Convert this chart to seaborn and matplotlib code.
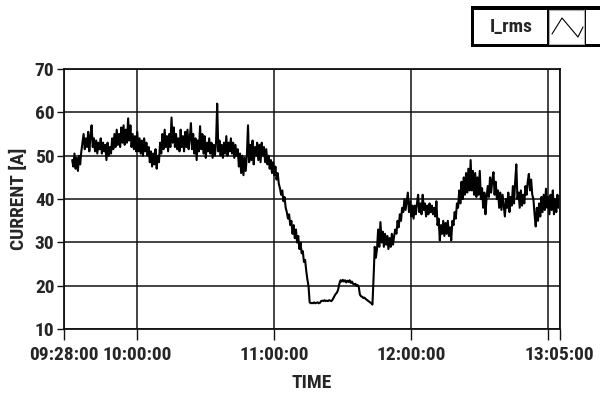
import numpy as np
import pandas as pd
import matplotlib
matplotlib.use("Agg")
import matplotlib.pyplot as plt
import matplotlib.dates as mdates
from matplotlib import font_manager as fm
from matplotlib.patches import Rectangle
from matplotlib.lines import Line2D
import seaborn as sns

# ---- data: RMS current sampled every 30 s, one block per hour ----
DAY = "2000-01-01"
SAMPLE_SECONDS = 30

block_starts = ["09:31:30", "10:00:00", "11:00:00", "12:00:00"]

current_0931 = [
    49, 47.5, 50.5, 47, 49.5, 46.5, 50, 48, 51, 53,
    55, 51.5, 54, 52, 55.5, 51, 54.5, 57, 52, 54,
    51, 53.5, 50.5, 53, 51.5, 54, 50.5, 53, 51, 52.5,
    49, 53, 50, 52, 50.5, 54, 51.5, 55, 52, 56,
    52.5, 55, 52, 56.5, 53, 57, 52.5, 56, 53, 58.6,
    53.5, 57, 52, 55, 51.5, 54.5, 51,
]
current_1000 = [
    55.5, 51, 54, 50.5, 53.5, 50, 54, 51, 53, 50,
    52, 48.5, 51, 47.5, 50.5, 48, 51.5, 47, 50, 48.5,
    53, 50.5, 55, 51.5, 56, 52, 54.5, 51, 55, 52,
    58.8, 53, 56.5, 52, 55, 51.5, 54, 51, 56, 52,
    54.5, 51, 55.5, 52, 56, 51.5, 54, 57.5, 51.5, 55,
    50.5, 54, 49, 53.5, 51, 56.8, 51.5, 55, 50.5, 54.5,
    49.5, 53, 51, 54, 50.5, 53, 49.5, 52.5, 50, 53,
    62, 51, 53.5, 50, 52.5, 49.5, 53, 50.5, 54.5, 50,
    53, 51, 54, 50.5, 53, 49.5, 52.5, 50, 51.5, 47.5,
    50.5, 46, 50, 45.5, 49.5, 46.5, 50, 57, 48.5, 52.5,
    49, 53.5, 48, 52, 50, 53, 49, 52.5, 48.5, 53,
    50, 52, 48.5, 51.5, 48, 50, 47, 49, 46, 48.5,
]
current_1100 = [
    45.5, 47.5, 44.5, 46, 43.5, 42.5, 41, 42, 39.5, 40.5,
    38, 37, 35.5, 36.5, 34, 35, 32, 34, 31, 33,
    30, 31.5, 28.5, 30, 27.5, 28, 25.5, 26, 23.5, 21.5,
    20, 16.2, 16, 16.1, 16, 16.2, 16, 16.1, 16.2, 16,
    16.1, 16.5, 16.6, 16.5, 16.7, 16.5, 16.6, 16.5, 16.7, 16.6,
    16.5, 16.8, 17.3, 17.8, 18.2, 18.5, 19.2, 20.5, 21.3, 21,
    21.4, 21, 21.3, 20.8, 21.2, 20.9, 21.3, 20.7, 21, 20.5,
    20.3, 20.5, 20, 20.2, 19.8, 18, 17.6, 17.5, 17.2, 17.3,
    17, 16.8, 16.6, 16.4, 16.2, 16, 15.7, 22, 29, 26.5,
    28.5, 33, 29, 34.7, 30, 32.5, 29, 32, 29.5, 31.5,
    28.5, 31, 29, 32, 29.5, 31.5, 33, 32, 35, 33.5,
    36.5, 35, 38, 37, 40, 37.5, 39.5, 41.5, 37, 39.5,
]
current_1200 = [
    36, 38.5, 35.5, 38.5, 36.5, 39, 41, 37, 39, 36.5,
    41, 37.5, 39, 36, 38.5, 36.5, 39, 37, 38.5, 36.5,
    38, 36, 39.5, 34, 35.5, 30.5, 34, 32, 35, 31.5,
    34.5, 32, 35, 31.5, 33.5, 30.5, 35, 34, 37, 35.5,
    39, 38, 42, 39, 44, 40, 45, 41, 46, 41.5,
    47, 42, 49, 42, 46.5, 41, 46, 40.5, 45, 41,
    46.5, 40, 42.5, 38, 41.5, 36.5, 40.5, 43, 40.5, 45,
    41.5, 44.5, 46.2, 41, 44, 40, 42, 38, 41.5, 37.5,
    41, 38.5, 36, 40, 38, 41.5, 37, 40.5, 38.5, 43,
    39, 44, 48, 40, 41.5, 38, 42, 38.5, 41, 39,
    43, 41, 44, 45.8, 42, 44.5, 41, 40, 36.5, 33.7,
    38, 35, 39, 36, 40.5, 37, 41, 37.5, 42.4, 38,
    40.5, 36.5, 41, 37.5, 42, 36.5, 40, 37, 41, 38,
]

x_limits = ["09:28:00", "13:05:00"]
x_tick_times = ["09:28:00", "10:00:00", "11:00:00", "12:00:00", "13:00:00", "13:05:00"]
x_tick_labels = ["09:28:00", "10:00:00", "11:00:00", "12:00:00", "", "13:05:00"]
y_ticks = [10, 20, 30, 40, 50, 60, 70]
series_name = "I_rms"

# ---- assemble the time series ----
frames = []
for start, vals in zip(block_starts, [current_0931, current_1000, current_1100, current_1200]):
    t0 = pd.Timestamp(f"{DAY} {start}")
    times = t0 + pd.to_timedelta(np.arange(len(vals)) * SAMPLE_SECONDS, unit="s")
    frames.append(pd.DataFrame({"time": times, "current": vals}))
df = pd.concat(frames, ignore_index=True)


# ---- pick a narrow bold face if one is installed ----
def pick_narrow_font():
    entries = fm.fontManager.ttflist
    names = {f.name for f in entries}
    for name in ["Liberation Sans Narrow", "Roboto Condensed", "Open Sans Condensed",
                 "Noto Sans Condensed", "Arial Narrow", "DejaVu Sans Condensed"]:
        if name in names:
            return name, "normal"
    for fam in ["Noto Sans", "Open Sans", "Roboto", "DejaVu Sans"]:
        for f in entries:
            if f.name == fam and str(f.stretch) in ("condensed", "semi-condensed",
                                                    "extra-condensed", "ultra-condensed"):
                return fam, str(f.stretch)
    return "Liberation Sans", "normal"


FONT_NAME, FONT_STRETCH = pick_narrow_font()
NARROW = FONT_NAME != "Liberation Sans"
FS = 14 if NARROW else 11.5

sns.set_style("white")
FONT = [FONT_NAME, "DejaVu Sans"]
plt.rcParams["font.family"] = FONT
plt.rcParams["font.stretch"] = FONT_STRETCH
plt.rcParams["font.weight"] = "bold"

fig = plt.figure(figsize=(6.0, 3.99), dpi=100)
ax = fig.add_axes([0.107, 0.1747, 0.8258, 0.6526])

sns.lineplot(data=df, x="time", y="current", ax=ax, color="black",
             linewidth=1.5, estimator=None, legend=False)

to_ts = lambda s: pd.Timestamp(f"{DAY} {s}")
ax.set_xlim(to_ts(x_limits[0]), to_ts(x_limits[1]))
ax.set_ylim(y_ticks[0], y_ticks[-1])

ax.set_xticks([mdates.date2num(to_ts(s)) for s in x_tick_times])
ax.set_xticklabels(x_tick_labels)
ax.set_yticks(y_ticks)
ax.set_yticklabels([str(v) for v in y_ticks])

ax.grid(True, color="#111111", linewidth=1.1)
for sp in ax.spines.values():
    sp.set_visible(True)
    sp.set_color("#111111")
    sp.set_linewidth(1.3)

ax.tick_params(axis="both", which="major", direction="out", length=5, width=1.0,
               color="#111111", labelsize=FS, pad=2, left=True, bottom=True)
ax.tick_params(axis="x", length=8, pad=4)
for lab in ax.get_xticklabels() + ax.get_yticklabels():
    lab.set_fontweight("bold")
    lab.set_fontstretch(FONT_STRETCH)

ax.set_xlabel("TIME", fontsize=FS, fontweight="bold", labelpad=7, fontstretch=FONT_STRETCH)
ax.set_ylabel("CURRENT [A]", fontsize=FS, fontweight="bold", labelpad=5, fontstretch=FONT_STRETCH)

# ---- plot legend box in the top-right corner ----
W, H = 600.0, 399.0
def fx(px): return px / W
def fy(py): return 1 - py / H

def box(x0, y0, x1, y1, **kw):
    fig.patches.append(Rectangle((fx(x0), fy(y1)), fx(x1) - fx(x0), fy(y0) - fy(y1),
                                 transform=fig.transFigure, **kw))

box(471, 6, 605, 47, facecolor="black", edgecolor="none")
box(474, 9.5, 547, 44, facecolor="white", edgecolor="none")
box(549, 9.5, 584, 44, facecolor="white", edgecolor="#b0b0b0", linewidth=0.8)
box(586, 9.5, 605, 44, facecolor="white", edgecolor="none")
fig.text(fx(511), fy(27), series_name, ha="center", va="center", fontsize=FS,
         fontweight="bold", family=FONT, fontstretch=FONT_STRETCH)
fig.lines.append(Line2D([fx(552), fx(562), fx(578), fx(583)], [fy(34), fy(18), fy(37), fy(27)],
                        transform=fig.transFigure, color="black", linewidth=0.8))

fig.savefig("out.png", dpi=100, facecolor="white")
